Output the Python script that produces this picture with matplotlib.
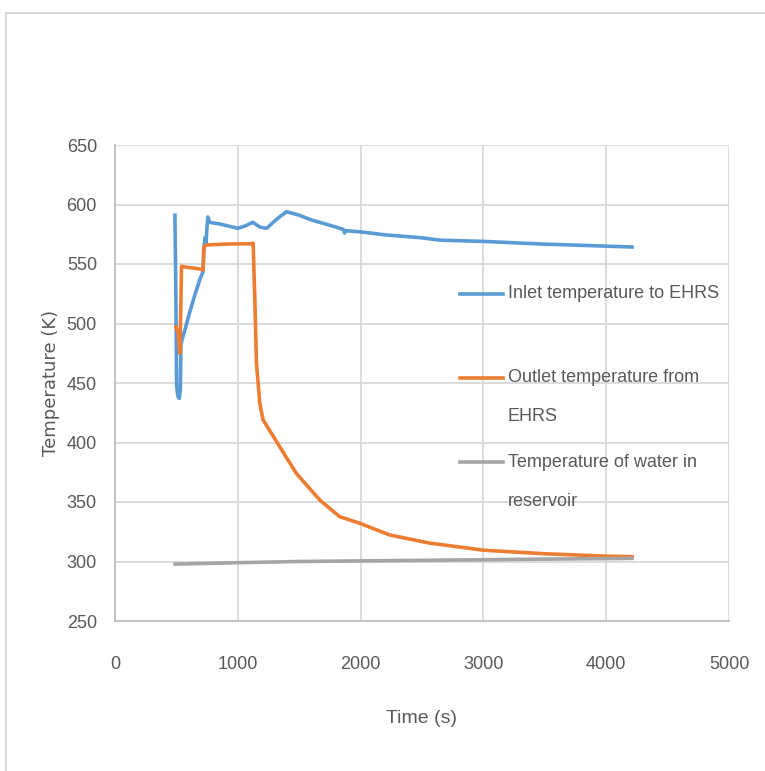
import matplotlib.pyplot as plt
from matplotlib.lines import Line2D

# inlet temperature to EHRS
inlet_t = [488, 496, 502, 512, 523, 532, 537, 545, 569, 610, 650, 691, 715, 724, 732, 740, 748, 756,
           772, 854, 1000, 1060, 1122, 1180, 1236, 1320, 1398, 1430, 1500, 1600, 1700, 1800, 1860, 1870,
           1880, 2000, 2200, 2500, 2650, 3000, 3470, 4000, 4210]
inlet_T = [591, 520, 447, 439, 437, 444, 482, 486, 494.5, 510, 524, 537, 543, 562, 572, 566, 579, 589.5,
           585, 583.6, 580, 582, 585, 581, 580, 588, 594, 593, 591, 587, 584, 581, 579, 576,
           578, 577, 574.5, 572, 570, 569, 566.8, 565, 564.3]

# outlet temperature from EHRS
outlet_t = [496, 515, 528, 535, 542, 600, 637, 680, 718, 724, 745, 850, 935, 1050, 1114, 1125, 1138,
            1152, 1179, 1192, 1206, 1260, 1341, 1477, 1667, 1829, 1992, 2236, 2561, 3000, 3500, 4000, 4210]
outlet_T = [497, 492, 475, 510, 548, 547, 546.6, 546, 545, 564.5, 566, 566.5, 566.8, 567, 567, 567.4, 522.5,
            466.8, 433, 426, 419, 410, 396.5, 374, 351.7, 337.7, 332.2, 322.3, 315.5, 309.5, 306.5, 304.5, 304]

# temperature of water in reservoir
water_t = [490, 1000, 1500, 2000, 2500, 3000, 3500, 4210]
water_T = [297.8, 299, 300, 300.5, 301, 301.5, 302, 302.6]

labels = ["Inlet temperature to EHRS", "Outlet temperature from\nEHRS", "Temperature of water in\nreservoir"]
colors = ["#5B9BD5", "#ED7D31", "#A5A5A5"]

plt.rcParams['font.family'] = ['Liberation Sans', 'DejaVu Sans']

fig = plt.figure(figsize=(7.65, 7.71), dpi=100)
ax = fig.add_axes([115 / 765, 1 - 621 / 771, 614 / 765, 476 / 771])

ax.plot(inlet_t, inlet_T, color=colors[0], lw=2.6)
ax.plot(outlet_t, outlet_T, color=colors[1], lw=2.6)
ax.plot(water_t, water_T, color=colors[2], lw=2.6)

ax.set_xlim(0, 5000)
ax.set_ylim(250, 650)
ax.set_xticks(range(0, 5001, 1000))
ax.set_yticks(range(250, 651, 50))
ax.grid(True, color="#D9D9D9", lw=1.3)
ax.set_axisbelow(True)
for s in ["top", "right"]:
    ax.spines[s].set_visible(False)
for s in ["left", "bottom"]:
    ax.spines[s].set_color("#BFBFBF")
    ax.spines[s].set_linewidth(1.3)
ax.tick_params(length=0, labelsize=13, labelcolor="#595959")
ax.tick_params(axis="x", pad=25)
ax.tick_params(axis="y", pad=13)

ax.set_xlabel("Time (s)", fontsize=14, color="#595959", labelpad=27)
ax.set_ylabel("Temperature (K)", fontsize=13, color="#595959", family="DejaVu Sans", labelpad=5)

# legend drawn Excel-style, handle level with the first text line
leg_y = [0.687, 0.511, 0.334]
dy = 0.082
for lab, c, y in zip(labels, colors, leg_y):
    ax.add_line(Line2D([0.562, 0.632], [y, y], transform=ax.transAxes, color=c, lw=2.6, clip_on=False))
    for i, line in enumerate(lab.split("\n")):
        ax.text(0.640, y - i * dy, line, transform=ax.transAxes, fontsize=13,
                color="#595959", va="center", ha="left")

# outer chart frame (top and left edges)
fig.add_artist(Line2D([6 / 765, 1], [1 - 13 / 771, 1 - 13 / 771], color="#D9D9D9", lw=1.5))
fig.add_artist(Line2D([6 / 765, 6 / 765], [0, 1 - 13 / 771], color="#D9D9D9", lw=1.5))

fig.savefig("out.png", dpi=100)
